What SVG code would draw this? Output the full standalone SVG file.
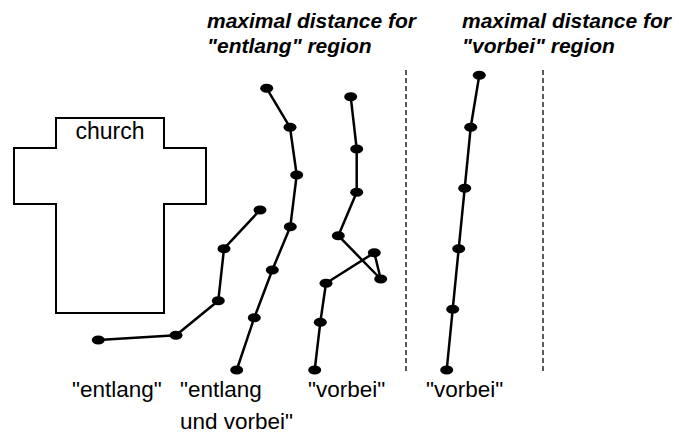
<svg xmlns="http://www.w3.org/2000/svg" width="679" height="437" viewBox="0 0 679 437">
<style>
.lbl{font-family:"Liberation Sans",Arial,sans-serif;font-size:22.5px;fill:#000}
.hd{font-family:"Liberation Sans",Arial,sans-serif;font-size:21px;font-weight:bold;font-style:italic;fill:#000}
.path{fill:none;stroke:#000;stroke-width:2.5;stroke-linejoin:round}
.dot{fill:#000}
.dash{stroke:#000;stroke-width:1.3;stroke-dasharray:5 3}
</style>
<rect width="679" height="437" fill="#fff"/>
<g id="church">
<path d="M56,118 H164 V148 H206 V204 H164 V313 H56 V204 H14 V148 H56 Z" fill="none" stroke="#000" stroke-width="2"/>
<text class="lbl" x="110" y="139" text-anchor="middle" style="font-size:23px">church</text>
</g>
<g id="headings">
<text class="hd" x="207" y="28">maximal distance for</text>
<text class="hd" x="207" y="53">"entlang" region</text>
<text class="hd" x="462" y="28">maximal distance for</text>
<text class="hd" x="462" y="53">"vorbei" region</text>
</g>
<g id="boundaries">
<line class="dash" x1="406" y1="70" x2="406" y2="371"/>
<line class="dash" x1="543" y1="70" x2="543" y2="371"/>
</g>
<g id="connectors">
<polyline class="path" points="98.3,340 176,335.3 218.3,300.7 224,248.7 260,210"/>
<polyline class="path" points="266.7,88.3 290,127.3 296.7,175 290.3,226.7 272.3,270 254.3,317.7 236.7,370"/>
<polyline class="path" points="350.7,96.7 356.7,149 356.7,192.3 338.3,235.7 380.7,279 374.3,252.7 326,283.3 320.3,322.3 314.7,370"/>
<polyline class="path" points="479.3,75.3 470.7,127.3 464.7,188.3 458.7,248.7 452.7,309.3 446.7,370"/>
</g>
<g id="path-entlang">
<ellipse class="dot" cx="98.3" cy="340" rx="6.5" ry="4.5"/>
<ellipse class="dot" cx="176" cy="335.3" rx="6.5" ry="4.5"/>
<ellipse class="dot" cx="218.3" cy="300.7" rx="6.5" ry="4.5"/>
<ellipse class="dot" cx="224" cy="248.7" rx="6.5" ry="4.5"/>
<ellipse class="dot" cx="260" cy="210" rx="6.5" ry="4.5"/>
<text class="lbl" x="72" y="397">"entlang"</text>
</g>
<g id="path-entlang-und-vorbei">
<ellipse class="dot" cx="266.7" cy="88.3" rx="6.5" ry="4.5"/>
<ellipse class="dot" cx="290" cy="127.3" rx="6.5" ry="4.5"/>
<ellipse class="dot" cx="296.7" cy="175" rx="6.5" ry="4.5"/>
<ellipse class="dot" cx="290.3" cy="226.7" rx="6.5" ry="4.5"/>
<ellipse class="dot" cx="272.3" cy="270" rx="6.5" ry="4.5"/>
<ellipse class="dot" cx="254.3" cy="317.7" rx="6.5" ry="4.5"/>
<ellipse class="dot" cx="236.7" cy="370" rx="6.5" ry="4.5"/>
<text class="lbl" x="180" y="397">"entlang</text>
<text class="lbl" x="180" y="429">und vorbei"</text>
</g>
<g id="path-vorbei-1">
<ellipse class="dot" cx="350.7" cy="96.7" rx="6.5" ry="4.5"/>
<ellipse class="dot" cx="356.7" cy="149" rx="6.5" ry="4.5"/>
<ellipse class="dot" cx="356.7" cy="192.3" rx="6.5" ry="4.5"/>
<ellipse class="dot" cx="338.3" cy="235.7" rx="6.5" ry="4.5"/>
<ellipse class="dot" cx="380.7" cy="279" rx="6.5" ry="4.5"/>
<ellipse class="dot" cx="374.3" cy="252.7" rx="6.5" ry="4.5"/>
<ellipse class="dot" cx="326" cy="283.3" rx="6.5" ry="4.5"/>
<ellipse class="dot" cx="320.3" cy="322.3" rx="6.5" ry="4.5"/>
<ellipse class="dot" cx="314.7" cy="370" rx="6.5" ry="4.5"/>
<text class="lbl" x="308" y="397">"vorbei"</text>
</g>
<g id="path-vorbei-2">
<ellipse class="dot" cx="479.3" cy="75.3" rx="6.5" ry="4.5"/>
<ellipse class="dot" cx="470.7" cy="127.3" rx="6.5" ry="4.5"/>
<ellipse class="dot" cx="464.7" cy="188.3" rx="6.5" ry="4.5"/>
<ellipse class="dot" cx="458.7" cy="248.7" rx="6.5" ry="4.5"/>
<ellipse class="dot" cx="452.7" cy="309.3" rx="6.5" ry="4.5"/>
<ellipse class="dot" cx="446.7" cy="370" rx="6.5" ry="4.5"/>
<text class="lbl" x="426" y="397">"vorbei"</text>
</g>
</svg>
